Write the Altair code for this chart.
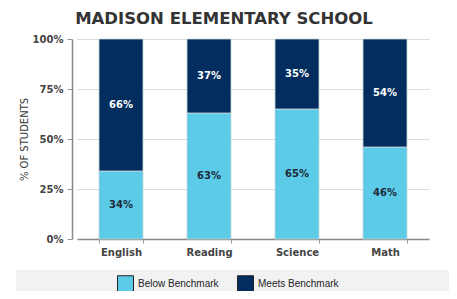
import altair as alt
import pandas as pd

subjects = ["English", "Reading", "Science", "Math"]
below = [34, 63, 65, 46]
meets = [66, 37, 35, 54]
series = ["Below Benchmark", "Meets Benchmark"]
colors = ["#5BCBE8", "#022D5E"]
label_colors = ["#1E2A38", "#FFFFFF"]
y_ticks = [0, 25, 50, 75, 100]

rows = []
for s, b, m in zip(subjects, below, meets):
    rows.append({"subject": s, "series": series[0], "value": b, "order": 0})
    rows.append({"subject": s, "series": series[1], "value": m, "order": 1})
df = pd.DataFrame(rows)

PLOT_W, PLOT_H = 352, 200

base = alt.Chart(df).transform_stack(
    stack="value", groupby=["subject"], as_=["y0", "y1"],
    sort=[alt.SortField("order", order="ascending")],
).transform_calculate(
    mid="(datum.y0 + datum.y1) / 2",
    label="datum.value + '%'",
)

x_enc = alt.X(
    "subject:N", sort=subjects,
    scale=alt.Scale(paddingInner=0.5, paddingOuter=0.25),
    axis=alt.Axis(
        title=None, tickBand="extent", labelAngle=0,
        labelFont="DejaVu Sans", labelFontWeight="bold", labelFontSize=10,
        labelColor="#444444", labelPadding=4, tickSize=4, tickColor="#999999",
        domainColor="#888888", domainWidth=1.5, grid=False,
    ),
)

bars = base.mark_bar(stroke="#C8D4DC", strokeWidth=0.8).encode(
    x=x_enc,
    y=alt.Y(
        "y1:Q", scale=alt.Scale(domain=[0, 100]),
        axis=alt.Axis(
            title="% OF STUDENTS", values=y_ticks, labelExpr="datum.value + '%'",
            offset=5, tickSize=5, tickColor="#999999", domainColor="#888888",
            domainWidth=1.5, gridColor="#DDDDDD", gridWidth=1,
            labelFont="DejaVu Sans", labelFontWeight="bold", labelFontSize=10,
            labelColor="#444444", labelPadding=4,
            titleFont="DejaVu Sans", titleFontWeight="normal", titleFontSize=10,
            titleColor="#333333", titlePadding=3,
        ),
    ),
    y2="y0:Q",
    color=alt.Color(
        "series:N", scale=alt.Scale(domain=series, range=colors),
        legend=alt.Legend(
            title=None, orient="none", legendX=40, legendY=236, direction="horizontal",
            symbolType="square", symbolSize=256, symbolStrokeColor="#222222",
            symbolStrokeWidth=1, symbolOpacity=1, labelFont="Liberation Sans",
            labelFontSize=10, labelColor="#222222", columnPadding=16,
            labelOffset=4, padding=0,
        ),
    ),
)

texts = base.mark_text(font="DejaVu Sans", fontWeight="bold", fontSize=10).encode(
    x=alt.X("subject:N", sort=subjects),
    y=alt.Y("mid:Q"),
    text="label:N",
    color=alt.Color("series:N", scale=alt.Scale(domain=series, range=label_colors), legend=None),
)

band = alt.Chart(pd.DataFrame({"a": [0]})).mark_rect(color="#F2F2F2").encode(
    x=alt.value(-61), x2=alt.value(380), y=alt.value(231), y2=alt.value(270),
)

chart = alt.layer(band, bars, texts).resolve_scale(color="independent").properties(
    width=PLOT_W, height=PLOT_H,
    autosize=alt.AutoSizeParams(type="none"),
    padding={"left": 69, "top": 31, "right": 20, "bottom": 52},
    title=alt.TitleParams(
        "MADISON ELEMENTARY SCHOOL", font="DejaVu Sans", fontSize=16.5,
        fontWeight="bold", color="#333333", anchor="middle", offset=7,
        dx=-29,
    ),
).configure_view(stroke=None)

chart.save("out.html", embed_options={"renderer": "svg", "actions": False})
